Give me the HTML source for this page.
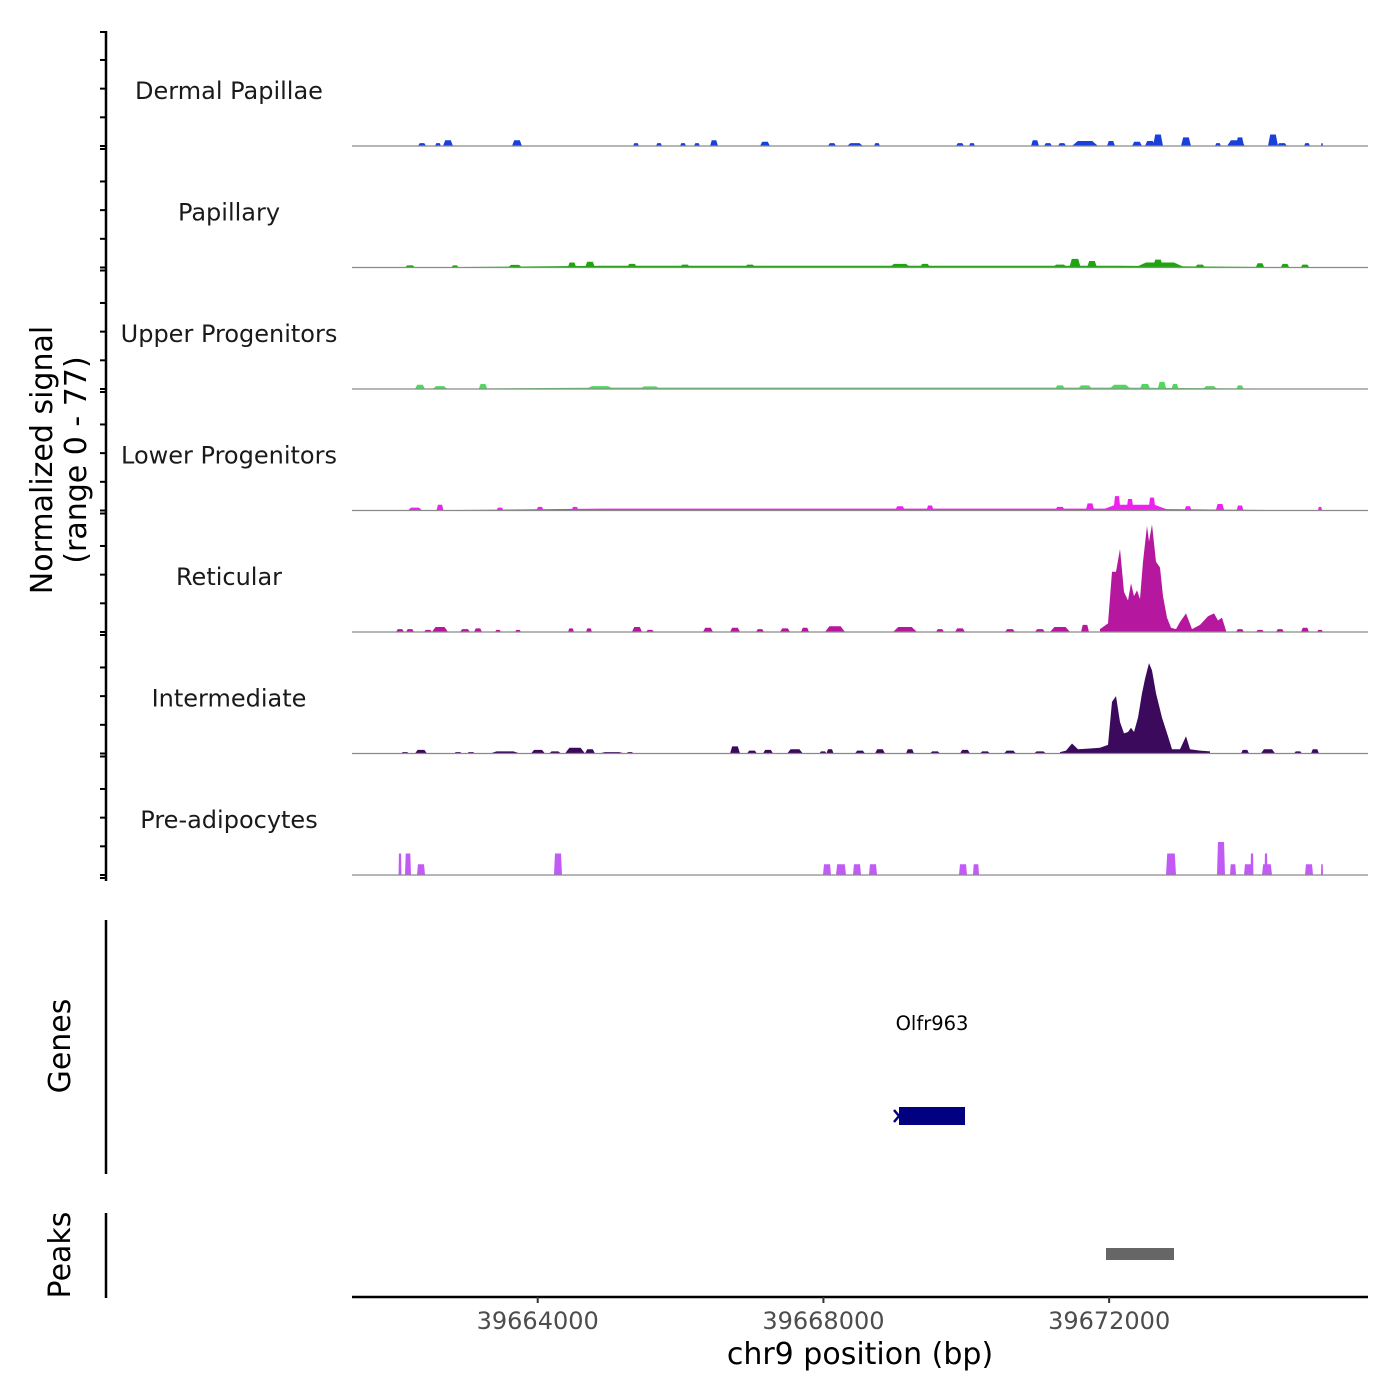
<!DOCTYPE html>
<html><head><meta charset="utf-8"><style>
html,body{margin:0;padding:0;background:#fff;width:1400px;height:1400px;overflow:hidden}
svg{display:block;font-family:"DejaVu Sans","Liberation Sans",sans-serif}
</style></head><body>
<svg id="chart" width="1400" height="1400" viewBox="0 0 1400 1400" xmlns="http://www.w3.org/2000/svg"></svg>
<script>
const trackNames=["Dermal Papillae","Papillary","Upper Progenitors","Lower Progenitors","Reticular","Intermediate","Pre-adipocytes"];
const trackColors=["#1a40dc","#1ea50f","#4cd95c","#ee22ee","#b5179e","#3b0a5c","#c25af5"];
const xTicks=[39664000,39668000,39672000];
const yTicks=[0,20,40,60];
// blocks: [centerBp, widthBp, value]
const dermalBlocks=[[39662380,112,2],[39662604,84,2],[39662744,140,4],[39663710,140,4],[39665376,84,2],[39665698,84,2],[39666034,84,2],[39666230,84,2],[39666468,112,4],[39667182,140,3],[39668120,112,2],[39668442,224,2],[39668750,84,2],[39669912,112,2],[39670080,84,2],[39670962,112,4],[39671144,112,2],[39671340,112,2],[39671662,364,3.5],[39672026,112,3.5],[39672390,140,3],[39672572,140,3.5],[39672684,140,8],[39673076,140,6],[39673524,84,2],[39673776,252,4],[39673832,112,6],[39674294,140,8],[39674420,140,2],[39674770,84,2],[39674980,28,2]];
const papillaryBlocks=[[39668533,12922,1.2],[39662212,140,1.5],[39662842,100,1.5],[39663682,200,1.8],[39664480,120,3.5],[39664732,140,4],[39665320,140,2.5],[39666062,140,2],[39666972,140,2],[39669072,300,2.5],[39669422,140,2.5],[39671312,200,2],[39671522,160,6],[39671760,140,4.5],[39672712,700,3.5],[39672684,140,5.5],[39673272,140,2],[39674112,120,3],[39674462,120,2.5],[39674742,120,2]];
const upperBlocks=[[39668533,12922,1],[39662352,140,3],[39662632,200,2],[39663234,120,3.5],[39664872,400,2],[39665572,300,1.8],[39671312,140,2.5],[39671662,200,2.5],[39672152,300,3],[39672502,150,3.5],[39672740,120,5],[39672922,100,3.5],[39673412,200,2],[39673832,100,2.5]];
const lowerBlocks=[[39668533,12922,1.3],[39662282,200,2],[39662632,100,4],[39663472,100,2],[39664032,100,2.5],[39664522,100,2.5],[39669072,140,3],[39669492,100,3.5],[39671312,140,2.5],[39672362,980,4],[39671732,120,5],[39672110,100,10],[39672292,100,8],[39672600,100,9],[39673104,100,3],[39673552,120,4.5],[39673832,100,3.5],[39674952,60,2.5]];
const reticularBlocks=[[39662072,112,2],[39662212,112,2],[39662464,112,1.5],[39662632,224,3.5],[39662982,140,2],[39663164,112,2.5],[39663444,84,1.5],[39663724,84,1.5],[39664466,84,2.5],[39664718,84,2.5],[39665390,140,3.5],[39665572,112,1.5],[39666384,140,3],[39666762,140,3],[39667112,112,2],[39667462,140,2.5],[39667742,112,3],[39668162,280,4],[39669142,336,3.5],[39669632,112,2],[39669912,140,2.5],[39670612,140,2],[39671032,140,2],[39671312,280,3.5],[39671662,112,5],[39673832,112,2],[39674112,112,1.5],[39674392,112,2],[39674742,112,3],[39674952,84,1.5]];
const reticularProfile=[[39671872,2],[39671984,6],[39672040,42],[39672096,42],[39672152,58],[39672208,28],[39672264,22],[39672306,34],[39672348,25],[39672390,29],[39672432,23],[39672474,49],[39672530,74],[39672558,63],[39672600,75],[39672656,49],[39672712,45],[39672754,25],[39672810,10],[39672866,3],[39672936,2],[39672992,7],[39673076,13],[39673160,2],[39673272,5],[39673384,11],[39673468,13],[39673524,8],[39673580,10],[39673636,1]];
const intermediateBlocks=[[39662142,112,1],[39662366,168,2.5],[39662884,112,1],[39663066,112,1],[39663542,420,1.5],[39664004,196,2.5],[39664242,168,1.5],[39664522,280,4],[39664732,140,3],[39665040,364,1],[39665292,100,1],[39666762,140,5],[39667000,140,2],[39667224,140,2.5],[39667602,220,3],[39667994,100,1.5],[39668092,100,3],[39668512,140,2],[39668792,140,3],[39669212,112,3],[39669562,140,1.5],[39669982,140,2.5],[39670262,140,1.5],[39670612,168,2],[39671032,168,1.5],[39673902,112,2.5],[39674224,200,3],[39674644,112,1.5],[39674882,112,3]];
const intermediateProfile=[[39671312,1],[39671396,2],[39671480,7],[39671564,3],[39671732,3.5],[39671872,4],[39671984,6],[39672040,36],[39672096,40],[39672152,22],[39672208,14],[39672264,15],[39672306,18],[39672348,15],[39672404,25],[39672460,42],[39672502,52],[39672558,63],[39672600,58],[39672656,42],[39672740,25],[39672824,12],[39672880,3],[39672992,3],[39673076,12],[39673132,3],[39673272,2],[39673412,1.5]];
const preadipoBlocks=[[39662072,40,15],[39662184,84,15],[39662366,112,7.5],[39664284,112,15],[39668050,112,7.5],[39668246,140,7.5],[39668470,112,7.5],[39668694,112,7.5],[39669954,112,7.5],[39670136,84,7.5],[39672866,140,15],[39673566,112,23],[39673734,84,7.5],[39673944,112,7.5],[39674000,40,15],[39674210,140,7.5],[39674196,40,15],[39674798,112,7.5],[39674980,28,7.5]];
const geneName="Olfr963";
const geneRange=[39669058,39669982];
const peakRange=[39671956,39672908];

const trackBlocks=[dermalBlocks,papillaryBlocks,upperBlocks,lowerBlocks,reticularBlocks,intermediateBlocks,preadipoBlocks];
const trackProfiles=[null,null,null,null,reticularProfile,intermediateProfile,null];

const NS="http://www.w3.org/2000/svg";
const svg=document.getElementById('chart');
function mk(tag,attrs,parent){const e=document.createElementNS(NS,tag);for(const k in attrs)e.setAttribute(k,attrs[k]);(parent||svg).appendChild(e);return e;}
const X0=352,X1=1368;
function xs(bp){return X0+(bp-39661400)/14;}
const PXU=1.434;
function baseY(i){return 146+i*121.5;}
function ys(i,v){return baseY(i)-v*PXU;}

const axis=mk('line',{x1:106,y1:31,x2:106,y2:881,stroke:'#000','stroke-width':2.5});


for(let i=0;i<7;i++){
  const g=mk('g',{});
  
  
  yTicks.forEach(t=>{const y=ys(i,t);mk('line',{x1:100,y1:y,x2:106,y2:y,stroke:'#000','stroke-width':2},g);});
  mk('line',{x1:100,y1:baseY(i)+3,x2:106,y2:baseY(i)+3,stroke:'#000','stroke-width':2},g);
  if(i===0)mk('line',{x1:100,y1:32,x2:106,y2:32,stroke:'#000','stroke-width':2},g);
  const lab=mk('text',{x:229,y:baseY(i)-47,'text-anchor':'middle','font-size':24,fill:'#1a1a1a'},g);
  lab.textContent=trackNames[i];
  
  
  trackBlocks[i].forEach(b=>{
    const [c,w,v]=b;const s=w*(i===6?0.12:0.22);
    const a=xs(c-w/2),bb=xs(c-w/2+s),cc=xs(c+w/2-s),d=xs(c+w/2);
    const p=mk('polygon',{points:`${a},${baseY(i)} ${bb},${ys(i,v)} ${cc},${ys(i,v)} ${d},${baseY(i)}`,fill:trackColors[i]},g);
    
    
  });
  if(trackProfiles[i]){
    const pr=trackProfiles[i];
    let pts=`${xs(pr[0][0])},${baseY(i)} `+pr.map(q=>`${xs(q[0])},${ys(i,q[1])}`).join(' ')+` ${xs(pr[pr.length-1][0])},${baseY(i)}`;
    const p=mk('polygon',{points:pts,fill:trackColors[i]},g);
    
    
  }
  const bl=mk('line',{x1:X0,y1:baseY(i),x2:X1,y2:baseY(i),stroke:'#8a8a8a','stroke-width':1.2},g);
  
  
}
const yt=mk('text',{transform:'translate(52,460) rotate(-90)','text-anchor':'middle','font-size':30,fill:'#000'});


yt.innerHTML='<tspan x="0" dy="0">Normalized signal</tspan><tspan x="0" dy="34">(range 0 - 77)</tspan>';

const ga=mk('line',{x1:106,y1:920,x2:106,y2:1174,stroke:'#000','stroke-width':2.5});


const gt=mk('text',{transform:'translate(70,1046) rotate(-90)','text-anchor':'middle','font-size':30,fill:'#000'});
gt.textContent='Genes';


const gl=mk('text',{x:(xs(geneRange[0])+xs(geneRange[1]))/2,y:1030,'text-anchor':'middle','font-size':19.5,fill:'#000'});
gl.textContent=geneName;


const gb=mk('rect',{x:xs(geneRange[0]),y:1107,width:xs(geneRange[1])-xs(geneRange[0]),height:18,fill:'#000080'});


const ga2=mk('path',{d:`M${xs(geneRange[0])-5},1110 L${xs(geneRange[0])},1116 L${xs(geneRange[0])-5},1122`,stroke:'#000080','stroke-width':2.5,fill:'none'});



const pa=mk('line',{x1:106,y1:1213,x2:106,y2:1298,stroke:'#000','stroke-width':2.5});


const pt=mk('text',{transform:'translate(70,1255) rotate(-90)','text-anchor':'middle','font-size':30,fill:'#000'});
pt.textContent='Peaks';


const pk=mk('rect',{x:xs(peakRange[0]),y:1248,width:xs(peakRange[1])-xs(peakRange[0]),height:12,fill:'#666'});



const xa=mk('line',{x1:X0,y1:1297,x2:X1,y2:1297,stroke:'#000','stroke-width':2.5});


xTicks.forEach(t=>{
  const tk=mk('line',{x1:xs(t),y1:1297,x2:xs(t),y2:1303,stroke:'#333','stroke-width':2});
  
  
  const tl=mk('text',{x:xs(t),y:1329,'text-anchor':'middle','font-size':24,fill:'#4d4d4d'});
  tl.textContent=t;
  
  
});
const xt=mk('text',{x:860,y:1364,'text-anchor':'middle','font-size':30,fill:'#000'});
xt.textContent='chr9 position (bp)';


</script>
</body></html>
